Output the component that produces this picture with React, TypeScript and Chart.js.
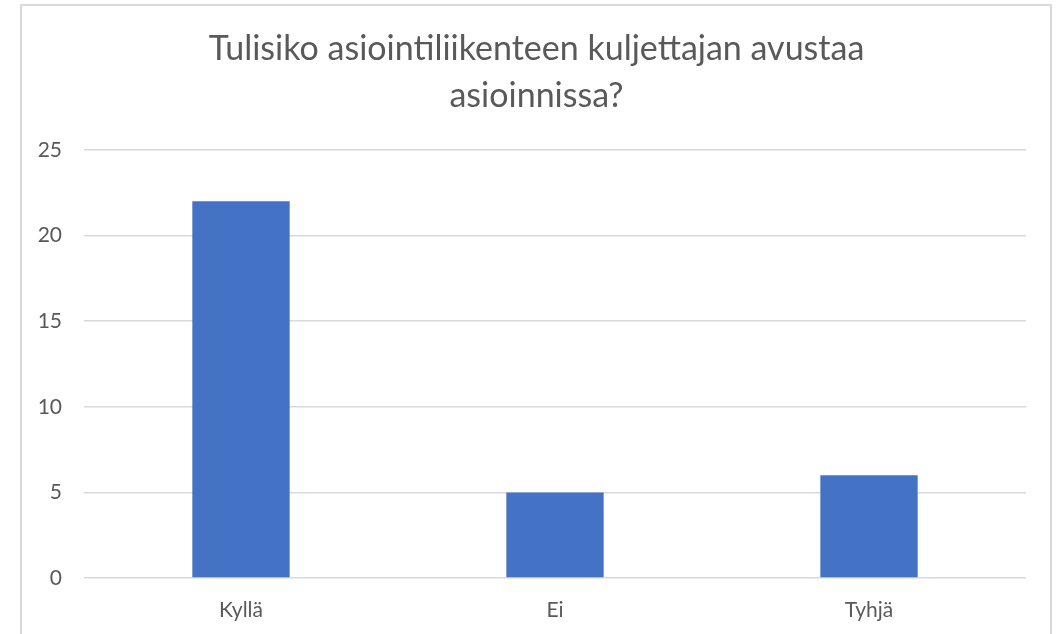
import React, { useEffect, useRef } from "react";
import { Chart, registerables } from "chart.js";

Chart.register(...registerables);

const categories = ["Kyllä", "Ei", "Tyhjä"];
const values = [22, 5, 6];
const titleLines = ["Tulisiko asiointiliikenteen kuljettajan avustaa", "asioinnissa?"];
const yMin = 0;
const yMax = 25;
const yStep = 5;

const FONT = "Lato, 'Open Sans', sans-serif";
const TEXT = "#595959";
const GRID = "#d9d9d9";
const BAR = "#4472C4";

export default function App() {
  const ref = useRef<HTMLCanvasElement | null>(null);

  useEffect(() => {
    if (!ref.current) return;
    const chart = new Chart(ref.current, {
      type: "bar",
      data: {
        labels: categories,
        datasets: [
          {
            data: values,
            backgroundColor: BAR,
            borderWidth: 0,
            categoryPercentage: 1,
            barPercentage: 0.31,
          },
        ],
      },
      options: {
        responsive: false,
        animation: false,
        layout: { padding: { left: 14, right: 0, top: 0, bottom: 0 } },
        plugins: {
          legend: { display: false },
          tooltip: { enabled: false },
          title: {
            display: true,
            text: titleLines,
            color: TEXT,
            font: { family: FONT, size: 34, weight: "normal", lineHeight: "47px" },
            padding: { top: 26, bottom: 30 },
          },
        },
        scales: {
          x: {
            grid: { display: false, drawTicks: false },
            border: { display: false },
            ticks: { color: TEXT, font: { family: FONT, size: 21 }, padding: 20 },
            afterFit: (scale: any) => {
              scale.height = 56;
            },
          },
          y: {
            min: yMin,
            max: yMax,
            grid: { color: GRID, lineWidth: 1.5, drawTicks: false },
            border: { display: false },
            ticks: { stepSize: yStep, color: TEXT, font: { family: FONT, size: 21 }, padding: 22 },
            afterFit: (scale: any) => {
              scale.width = 70;
            },
          },
          yRight: {
            type: "linear",
            position: "right",
            display: true,
            grid: { display: false, drawTicks: false },
            border: { display: false },
            ticks: { display: false },
            afterFit: (scale: any) => {
              scale.width = 33;
            },
          },
        },
      },
    });
    return () => chart.destroy();
  }, []);

  return (
    <div style={{ position: "fixed", left: 0, top: 0, width: 1059, height: 634, background: "#fff", overflow: "hidden" }}>
      <canvas ref={ref} width={1059} height={634} style={{ position: "absolute", left: 0, top: 0 }} />
      <div
        style={{
          position: "absolute",
          left: 20,
          top: 4,
          width: 1032,
          height: 700,
          border: "2px solid #d9d9d9",
          boxSizing: "border-box",
          pointerEvents: "none",
        }}
      />
    </div>
  );
}
